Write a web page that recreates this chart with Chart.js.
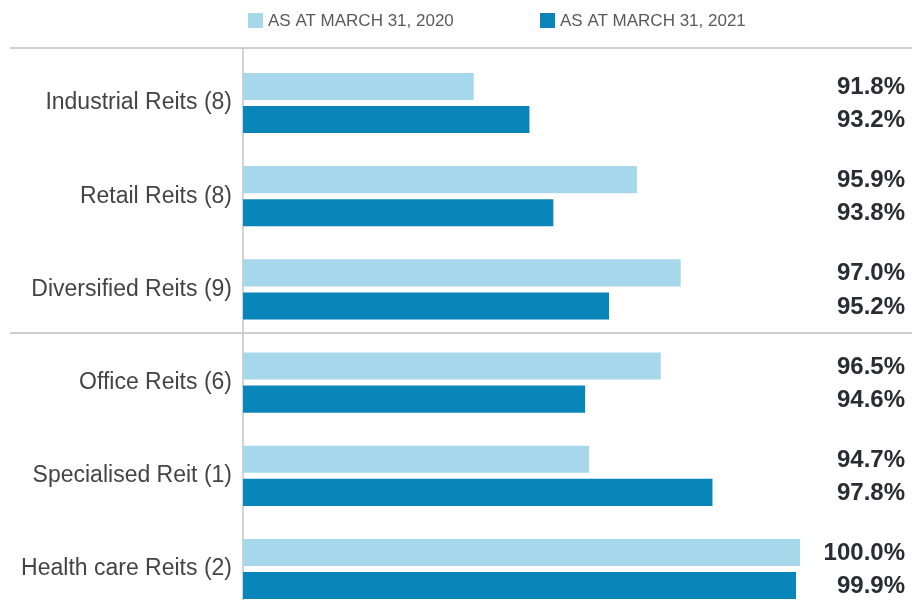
<!DOCTYPE html>
<html lang="en">
<head>
    <meta charset="UTF-8">
    <title>Reit Occupancy</title>
    <script src="https://cdn.jsdelivr.net/npm/chart.js"></script>
    <style>
        html, body { margin: 0; padding: 0; background: #fff; overflow: hidden; }
        #wrap { width: 912px; height: 600px; }
    </style>
</head>
<body>
    <div id="wrap"><canvas id="occChart" width="912" height="600"></canvas></div>
    <script>
        const categories = ['Industrial Reits (8)', 'Retail Reits (8)', 'Diversified Reits (9)', 'Office Reits (6)', 'Specialised Reit (1)', 'Health care Reits (2)'];
        const seriesLabels = ['AS AT MARCH 31, 2020', 'AS AT MARCH 31, 2021'];
        const occ2020 = [91.8, 95.9, 97.0, 96.5, 94.7, 100.0];
        const occ2021 = [93.2, 93.8, 95.2, 94.6, 97.8, 99.9];

        const lightBlue = '#a6d7eb';
        const darkBlue = '#0a85b9';
        // clip bars only at the left edge of the plot, so the outer bars can spill above/below it
        const barClip = { left: 0, right: false, top: false, bottom: false };

        // lines, legend and value labels
        const decor = {
            id: 'decor',
            beforeDatasetsDraw(chart) {
                const { ctx, scales: { y } } = chart;
                ctx.save();
                ctx.strokeStyle = '#cfcfcf';
                ctx.lineWidth = 2;
                ctx.beginPath();
                ctx.moveTo(10, 48); ctx.lineTo(912, 48);
                const mid = (y.getPixelForValue(2) + y.getPixelForValue(3)) / 2 - 3;
                ctx.moveTo(10, mid); ctx.lineTo(912, mid);
                ctx.stroke();
                ctx.strokeStyle = '#c4c4c4';
                ctx.lineWidth = 1.5;
                ctx.beginPath();
                ctx.moveTo(243, 48); ctx.lineTo(243, 600);
                ctx.stroke();
                ctx.restore();
            },
            afterDatasetsDraw(chart) {
                const { ctx } = chart;
                ctx.save();
                // value labels on the right
                ctx.font = 'bold 24px "Liberation Sans", Arial, sans-serif';
                ctx.fillStyle = '#2a2b33';
                ctx.textAlign = 'right';
                ctx.textBaseline = 'middle';
                chart.data.datasets.forEach((ds, di) => {
                    chart.getDatasetMeta(di).data.forEach((bar, i) => {
                        ctx.fillText(ds.data[i].toFixed(1) + '%', 905, bar.y + 1);
                    });
                });
                // legend
                ctx.font = '17px "Liberation Sans", Arial, sans-serif';
                ctx.textAlign = 'left';
                const starts = [248, 540];
                chart.data.datasets.forEach((ds, di) => {
                    ctx.fillStyle = ds.backgroundColor;
                    ctx.fillRect(starts[di], 13, 15, 15);
                    ctx.fillStyle = '#5a5a5a';
                    ctx.fillText(ds.label, starts[di] + 20, 21);
                });
                ctx.restore();
            }
        };

        new Chart(document.getElementById('occChart'), {
            type: 'bar',
            data: {
                labels: categories,
                datasets: [
                    { label: seriesLabels[0], data: occ2020, backgroundColor: lightBlue, clip: barClip },
                    { label: seriesLabels[1], data: occ2021, backgroundColor: darkBlue, clip: barClip }
                ]
            },
            options: {
                indexAxis: 'y',
                responsive: false,
                animation: false,
                categoryPercentage: 0.71,
                barPercentage: 0.82,
                layout: { padding: { top: 103, bottom: 31, left: 0, right: 112 } },
                scales: {
                    x: { min: 86, max: 100, display: false },
                    y: {
                        offset: false,
                        grid: { display: false },
                        border: { display: false },
                        ticks: {
                            color: '#444',
                            padding: 3,
                            font: { family: '"Liberation Sans", Arial, sans-serif', size: 23 }
                        },
                        afterFit(scale) { scale.width = 243; }
                    }
                },
                plugins: {
                    legend: { display: false },
                    tooltip: { enabled: false }
                }
            },
            plugins: [decor]
        });
    </script>
</body>
</html>
